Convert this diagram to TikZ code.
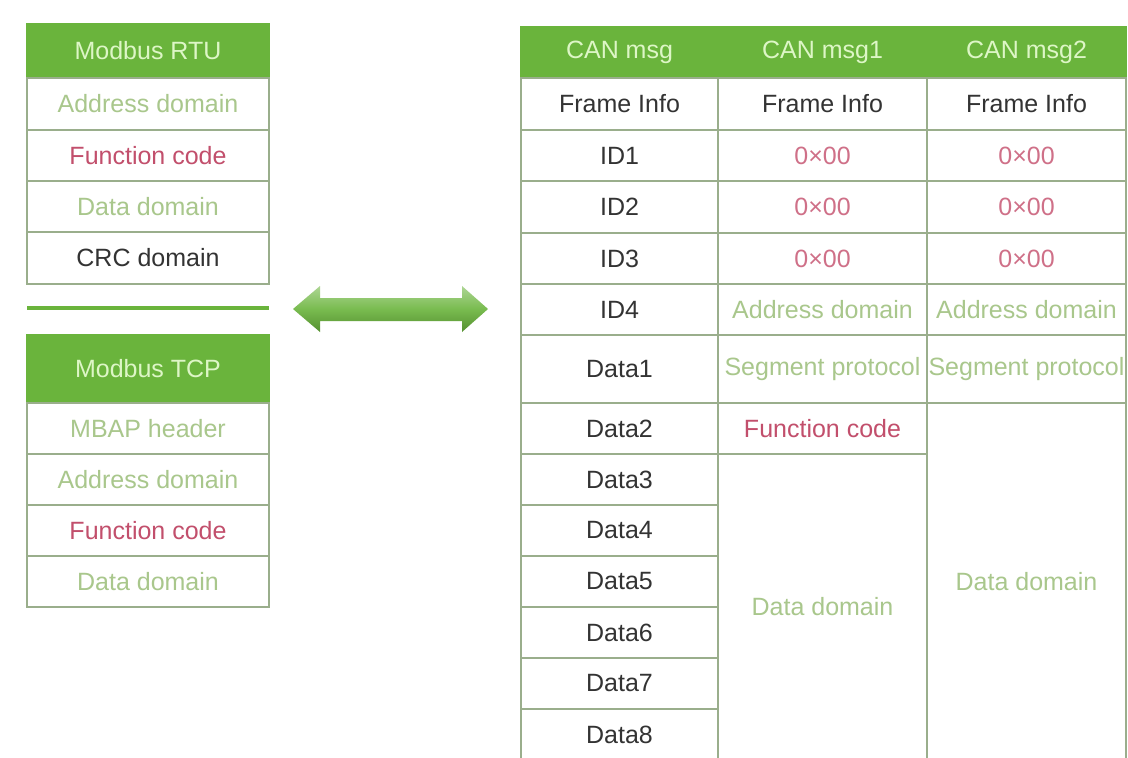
\documentclass[tikz,border=0pt]{standalone}
\usepackage{fontspec}
\setmainfont{Liberation Sans}
\definecolor{hdr}{HTML}{6AB43C}
\definecolor{hdrtext}{HTML}{DDF6C6}
\definecolor{grid}{HTML}{9AAE8C}
\definecolor{lgreen}{HTML}{A9C78C}
\definecolor{fred}{HTML}{C24F6C}
\definecolor{hexred}{HTML}{CF7088}
\definecolor{dark}{HTML}{333333}
\begin{document}
\begin{tikzpicture}[x=1pt,y=-1pt,
  cell/.style={draw=grid, line width=1.2pt, inner sep=0pt, text=dark,
    font=\fontsize{25}{30}\selectfont},
  hdrcell/.style={cell, fill=hdr, draw=hdr, text=hdrtext},
  lw/.style={minimum width=242pt},
  c1/.style={minimum width=197pt},
  c2/.style={minimum width=209pt},
  c3/.style={minimum width=199pt},
  rh/.style={minimum height=#1pt}]
\useasboundingbox[fill=white] (0,0) rectangle (1128,758);

% Modbus RTU frame
\node[hdrcell, lw, rh=54] (rtu) at (148,51) {Modbus RTU};
\node[cell, lw, rh=52, text=lgreen] (rtuAddr) at (148,104) {Address domain};
\node[cell, lw, rh=51, text=fred] (rtuFunc) at (148,155.5) {Function code};
\node[cell, lw, rh=51, text=lgreen] (rtuData) at (148,206.5) {Data domain};
\node[cell, lw, rh=52] (rtuCrc) at (148,258) {CRC domain};

% separator bar
\coordinate (sepL) at (27,308);
\coordinate (sepR) at (269,308);
\draw[hdr, line width=4pt] (sepL) -- (sepR);

% Modbus TCP frame
\node[hdrcell, lw, rh=68] (tcp) at (148,369) {Modbus TCP};
\node[cell, lw, rh=51, text=lgreen] (tcpMbap) at (148,428.5) {MBAP header};
\node[cell, lw, rh=51, text=lgreen] (tcpAddr) at (148,479.5) {Address domain};
\node[cell, lw, rh=51, text=fred] (tcpFunc) at (148,530.5) {Function code};
\node[cell, lw, rh=51, text=lgreen] (tcpData) at (148,581.5) {Data domain};

% two-way conversion arrow
\shade[top color=hdr!55!white, bottom color=hdr!80!black, middle color=hdr!90!white]
  (293,309) -- (320,286) -- (320,298) -- (462,298) -- (462,286) -- (488,309)
  -- (462,332) -- (462,321) -- (320,321) -- (320,332) -- cycle;

% CAN frame table: header row
\node[hdrcell, c1, rh=51] (h0) at (619.5,52.5) {CAN msg};
\node[hdrcell, c2, rh=51] (h1) at (822.5,52.5) {CAN msg1};
\node[hdrcell, c3, rh=51] (h2) at (1026.5,52.5) {CAN msg2};

% first column
\node[cell, c1, rh=52] (fi0) at (619.5,104) {Frame Info};
\node[cell, c1, rh=51] (id1) at (619.5,155.5) {ID1};
\node[cell, c1, rh=52] (id2) at (619.5,207) {ID2};
\node[cell, c1, rh=51] (id3) at (619.5,258.5) {ID3};
\node[cell, c1, rh=51] (id4) at (619.5,309.5) {ID4};
\node[cell, c1, rh=68] (d1) at (619.5,369) {Data1};
\node[cell, c1, rh=51] (d2) at (619.5,428.5) {Data2};
\node[cell, c1, rh=51] (d3) at (619.5,479.5) {Data3};
\node[cell, c1, rh=51] (d4) at (619.5,530.5) {Data4};
\node[cell, c1, rh=51] (d5) at (619.5,581.5) {Data5};
\node[cell, c1, rh=51] (d6) at (619.5,632.5) {Data6};
\node[cell, c1, rh=51] (d7) at (619.5,683.5) {Data7};
\node[cell, c1, rh=51] (d8) at (619.5,734.5) {Data8};

% CAN msg1
\node[cell, c2, rh=52] (fi1) at (822.5,104) {Frame Info};
\node[cell, c2, rh=51, text=hexred] (m1id1) at (822.5,155.5) {0×00};
\node[cell, c2, rh=52, text=hexred] (m1id2) at (822.5,207) {0×00};
\node[cell, c2, rh=51, text=hexred] (m1id3) at (822.5,258.5) {0×00};
\node[cell, c2, rh=51, text=lgreen] (m1id4) at (822.5,309.5) {Address domain};
\node[cell, c2, rh=68, text=lgreen] (m1seg) at (822.5,369) {Segment protocol};
\node[cell, c2, rh=51, text=fred] (m1func) at (822.5,428.5) {Function code};
\node[cell, c2, rh=306, text=lgreen] (m1data) at (822.5,607) {Data domain};

% CAN msg2
\node[cell, c3, rh=52] (fi2) at (1026.5,104) {Frame Info};
\node[cell, c3, rh=51, text=hexred] (m2id1) at (1026.5,155.5) {0×00};
\node[cell, c3, rh=52, text=hexred] (m2id2) at (1026.5,207) {0×00};
\node[cell, c3, rh=51, text=hexred] (m2id3) at (1026.5,258.5) {0×00};
\node[cell, c3, rh=51, text=lgreen] (m2id4) at (1026.5,309.5) {Address domain};
\node[cell, c3, rh=68, text=lgreen] (m2seg) at (1026.5,369) {Segment protocol};
\node[cell, c3, rh=357, text=lgreen] (m2data) at (1026.5,581.5) {Data domain};
\end{tikzpicture}
\end{document}
